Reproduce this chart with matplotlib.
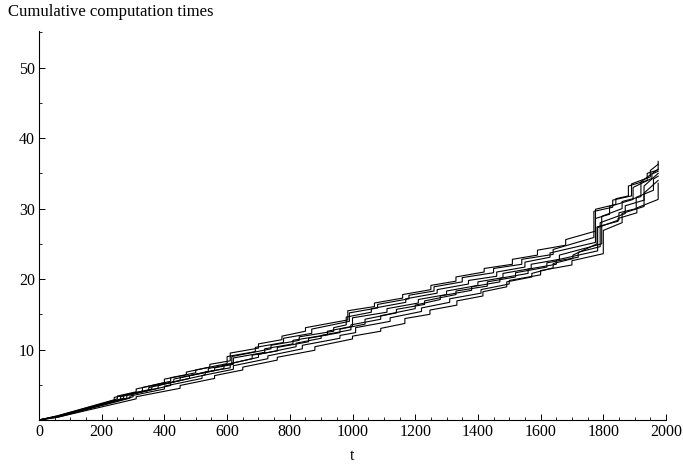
import matplotlib
matplotlib.use("Agg")
import matplotlib.pyplot as plt
from matplotlib.ticker import MultipleLocator

plt.rcParams['font.family'] = ['Liberation Serif', 'DejaVu Serif']

# knots of each run: (t, cumulative time), repeated t = a jump
t1 = [0, 60, 250, 250, 310, 310, 400, 400, 470, 470, 545, 545, 610, 610, 700, 700, 775, 775, 850, 850,
      985, 985, 1070, 1070, 1160, 1160, 1250, 1250, 1330, 1330, 1420, 1420, 1510, 1510, 1590, 1590,
      1680, 1680, 1775, 1775, 1840, 1840, 1880, 1880, 1940, 1940, 1975, 1975]
y1 = [0, 0.6, 3.0, 3.4, 4.0, 4.4, 5.3, 5.8, 6.4, 6.8, 7.5, 7.9, 8.4, 9.5, 10.2, 10.8, 11.4, 11.9, 12.6, 13.1,
      14.2, 15.5, 16.1, 16.6, 17.3, 17.8, 18.5, 19.1, 19.7, 20.3, 21.0, 21.5, 22.1, 22.8, 23.4, 24.1,
      24.8, 25.6, 26.8, 29.9, 30.6, 31.4, 31.8, 33.2, 34.0, 35.0, 35.5, 36.7]

t2 = [0, 60, 240, 240, 330, 330, 420, 420, 500, 500, 600, 600, 690, 690, 780, 780, 870, 870, 990, 990,
      1080, 1080, 1180, 1180, 1260, 1260, 1350, 1350, 1450, 1450, 1540, 1540, 1640, 1640, 1770, 1770,
      1830, 1830, 1890, 1890, 1950, 1950, 1975]
y2 = [0, 0.6, 2.8, 3.2, 4.1, 4.6, 5.5, 6.0, 6.7, 7.1, 8.0, 9.0, 9.7, 10.3, 11.0, 11.6, 12.3, 12.9, 14.0, 15.2,
      15.9, 16.4, 17.2, 17.7, 18.3, 18.9, 19.6, 20.2, 20.9, 21.5, 22.1, 22.8, 23.5, 24.2, 25.9, 29.6,
      30.2, 31.2, 31.8, 33.5, 34.5, 35.4, 36.3]

t3 = [0, 60, 270, 270, 360, 360, 450, 450, 560, 560, 620, 620, 720, 720, 810, 810, 920, 920, 1000, 1000,
      1110, 1110, 1210, 1210, 1300, 1300, 1400, 1400, 1480, 1480, 1570, 1570, 1660, 1660, 1795, 1795,
      1860, 1860, 1920, 1920, 1975]
y3 = [0, 0.5, 3.1, 3.5, 4.4, 4.8, 5.6, 6.0, 7.0, 7.4, 7.9, 8.8, 9.6, 10.1, 10.8, 11.3, 12.1, 12.6, 13.3, 14.5,
      15.3, 15.8, 16.6, 17.1, 17.8, 18.3, 19.1, 19.6, 20.2, 20.8, 21.5, 22.1, 22.8, 23.4, 25.0, 28.9,
      30.0, 31.0, 31.7, 33.8, 35.6]

t4 = [0, 60, 280, 280, 380, 380, 480, 480, 590, 590, 680, 680, 760, 760, 860, 860, 960, 960, 1040, 1040,
      1140, 1140, 1230, 1230, 1330, 1330, 1430, 1430, 1520, 1520, 1620, 1620, 1720, 1720, 1790, 1790,
      1870, 1870, 1930, 1930, 1975]
y4 = [0, 0.5, 3.1, 3.5, 4.5, 4.9, 5.9, 6.3, 7.3, 7.8, 8.7, 9.2, 9.8, 10.3, 11.1, 11.6, 12.4, 12.9, 13.6, 14.3,
      15.2, 15.7, 16.4, 16.9, 17.8, 18.3, 19.0, 19.6, 20.3, 20.9, 21.7, 22.3, 23.1, 23.8, 24.6, 28.0,
      29.3, 30.4, 31.2, 33.2, 35.0]

t5 = [0, 60, 300, 300, 420, 420, 530, 530, 610, 610, 700, 700, 820, 820, 900, 900, 995, 995, 1090, 1090,
      1200, 1200, 1280, 1280, 1380, 1380, 1470, 1470, 1560, 1560, 1650, 1650, 1782, 1782, 1850, 1850,
      1905, 1905, 1960, 1960, 1975]
y5 = [0, 0.5, 3.3, 3.7, 4.9, 5.3, 6.4, 6.8, 7.4, 8.0, 8.9, 9.3, 10.4, 10.9, 11.6, 12.0, 12.8, 13.5, 14.3, 14.8,
      15.8, 16.3, 17.1, 17.6, 18.4, 18.9, 19.6, 20.1, 20.8, 21.4, 22.1, 22.7, 24.0, 27.3, 28.4, 29.4,
      30.0, 31.6, 32.6, 34.2, 34.6]

t6 = [0, 60, 290, 290, 400, 400, 520, 520, 620, 620, 730, 730, 840, 840, 960, 960, 1010, 1010, 1120, 1120,
      1220, 1220, 1310, 1310, 1410, 1410, 1500, 1500, 1600, 1600, 1700, 1700, 1800, 1800, 1860, 1860,
      1930, 1930, 1975]
y6 = [0, 0.4, 3.1, 3.4, 4.4, 4.8, 5.9, 6.3, 7.2, 7.7, 8.7, 9.1, 10.1, 10.6, 11.6, 12.0, 12.4, 13.1, 14.0, 14.5,
      15.4, 15.9, 16.7, 17.2, 18.0, 18.5, 19.3, 19.8, 20.6, 21.2, 22.0, 22.6, 23.6, 26.9, 28.0, 29.3,
      30.3, 32.2, 34.0]

t7 = [0, 60, 310, 310, 450, 450, 560, 560, 650, 650, 760, 760, 880, 880, 1000, 1000, 1090, 1090, 1167, 1167,
      1247, 1247, 1333, 1333, 1416, 1416, 1492, 1492, 1572, 1572, 1640, 1640, 1703, 1703, 1780, 1780,
      1847, 1847, 1907, 1907, 1975, 1975]
y7 = [0, 0.4, 3.0, 3.3, 4.5, 4.9, 5.9, 6.3, 7.1, 7.5, 8.5, 8.9, 9.9, 10.4, 11.5, 11.9, 12.6, 13.0, 13.7, 14.4,
      15.0, 15.6, 16.3, 16.9, 17.6, 18.2, 18.9, 19.6, 20.3, 20.8, 21.6, 22.2, 22.9, 23.4, 25.0, 27.4,
      28.2, 28.6, 29.4, 30.1, 31.3, 33.6]

t8 = [0, 60, 260, 260, 350, 350, 430, 430, 540, 540, 615, 615, 740, 740, 830, 830, 940, 940, 980, 980,
      1060, 1060, 1170, 1170, 1270, 1270, 1370, 1370, 1460, 1460, 1550, 1550, 1630, 1630, 1775, 1775,
      1820, 1820, 1895, 1895, 1955, 1955, 1975]
y8 = [0, 0.5, 2.9, 3.3, 4.2, 4.6, 5.4, 5.8, 6.9, 7.3, 8.0, 9.0, 10.1, 10.6, 11.3, 11.8, 12.6, 13.1, 13.5, 14.6,
      15.3, 15.8, 16.7, 17.2, 18.0, 18.5, 19.3, 19.8, 20.4, 21.0, 21.7, 22.4, 23.1, 23.7, 25.2, 28.6,
      29.2, 30.3, 31.3, 33.0, 34.3, 34.9, 35.3]

runs = [(t1, y1), (t2, y2), (t3, y3), (t4, y4), (t5, y5), (t6, y6), (t7, y7), (t8, y8)]

fig = plt.figure(figsize=(6.83, 4.67), dpi=100)
ax = fig.add_axes([39/683, 47/467, 627/683, 389/467])

for tt, yy in runs:
    ax.plot(tt, yy, color='black', lw=0.8)

ax.set_xlim(0, 2000)
ax.set_ylim(0, 55.2)
ax.spines['top'].set_visible(False)
ax.spines['right'].set_visible(False)
for s in ['left', 'bottom']:
    ax.spines[s].set_linewidth(0.8)

ax.xaxis.set_major_locator(MultipleLocator(200))
ax.xaxis.set_minor_locator(MultipleLocator(50))
ax.yaxis.set_major_locator(MultipleLocator(10))
ax.yaxis.set_minor_locator(MultipleLocator(5))
ax.tick_params(which='major', direction='in', length=4.5, width=0.7, labelsize=11.5, pad=3)
ax.tick_params(which='minor', direction='in', length=2.5, width=0.6)
ax.set_yticks([10, 20, 30, 40, 50])
ax.set_xticks(range(0, 2001, 200))

ax.set_xlabel('t', fontsize=11.5, labelpad=6)
fig.text(8/683, 1 - 12/467, 'Cumulative computation times', fontsize=12, ha='left', va='center')

fig.savefig('out.png', dpi=100)
